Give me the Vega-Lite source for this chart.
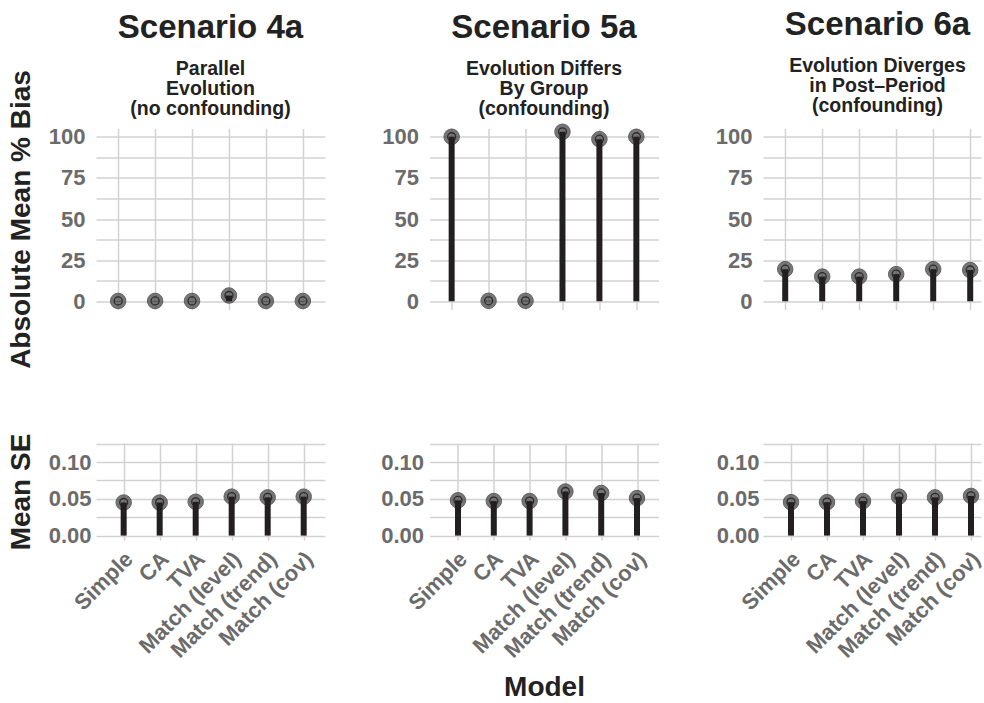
{
 "$schema": "https://vega.github.io/schema/vega-lite/v6.json",
 "padding": {"left": 7, "top": 8.5, "right": 0, "bottom": 0},
 "background": "white",
 "bounds": "flush",
 "columns": 3,
 "spacing": {"row": 133.5, "column": 104.5},
 "datasets": {
  "d": [
   {"scenario": "4a", "metric": "bias", "model": "Simple", "value": 0.2},
   {"scenario": "4a", "metric": "bias", "model": "CA", "value": 0.2},
   {"scenario": "4a", "metric": "bias", "model": "TVA", "value": 0.2},
   {"scenario": "4a", "metric": "bias", "model": "Match (level)", "value": 3.5},
   {"scenario": "4a", "metric": "bias", "model": "Match (trend)", "value": 0.2},
   {"scenario": "4a", "metric": "bias", "model": "Match (cov)", "value": 0.2},
   {"scenario": "5a", "metric": "bias", "model": "Simple", "value": 100},
   {"scenario": "5a", "metric": "bias", "model": "CA", "value": 0.3},
   {"scenario": "5a", "metric": "bias", "model": "TVA", "value": 0.3},
   {"scenario": "5a", "metric": "bias", "model": "Match (level)", "value": 103},
   {"scenario": "5a", "metric": "bias", "model": "Match (trend)", "value": 98.5},
   {"scenario": "5a", "metric": "bias", "model": "Match (cov)", "value": 100},
   {"scenario": "6a", "metric": "bias", "model": "Simple", "value": 19.5},
   {"scenario": "6a", "metric": "bias", "model": "CA", "value": 15},
   {"scenario": "6a", "metric": "bias", "model": "TVA", "value": 15},
   {"scenario": "6a", "metric": "bias", "model": "Match (level)", "value": 16.5},
   {"scenario": "6a", "metric": "bias", "model": "Match (trend)", "value": 19.5},
   {"scenario": "6a", "metric": "bias", "model": "Match (cov)", "value": 19},
   {"scenario": "4a", "metric": "se", "model": "Simple", "value": 0.045},
   {"scenario": "4a", "metric": "se", "model": "CA", "value": 0.045},
   {"scenario": "4a", "metric": "se", "model": "TVA", "value": 0.046},
   {"scenario": "4a", "metric": "se", "model": "Match (level)", "value": 0.053},
   {"scenario": "4a", "metric": "se", "model": "Match (trend)", "value": 0.052},
   {"scenario": "4a", "metric": "se", "model": "Match (cov)", "value": 0.053},
   {"scenario": "5a", "metric": "se", "model": "Simple", "value": 0.048},
   {"scenario": "5a", "metric": "se", "model": "CA", "value": 0.047},
   {"scenario": "5a", "metric": "se", "model": "TVA", "value": 0.047},
   {"scenario": "5a", "metric": "se", "model": "Match (level)", "value": 0.060},
   {"scenario": "5a", "metric": "se", "model": "Match (trend)", "value": 0.058},
   {"scenario": "5a", "metric": "se", "model": "Match (cov)", "value": 0.051},
   {"scenario": "6a", "metric": "se", "model": "Simple", "value": 0.0455},
   {"scenario": "6a", "metric": "se", "model": "CA", "value": 0.0455},
   {"scenario": "6a", "metric": "se", "model": "TVA", "value": 0.047},
   {"scenario": "6a", "metric": "se", "model": "Match (level)", "value": 0.053},
   {"scenario": "6a", "metric": "se", "model": "Match (trend)", "value": 0.052},
   {"scenario": "6a", "metric": "se", "model": "Match (cov)", "value": 0.054}
  ]
 },
 "data": {"name": "d"},
 "config": {
  "view": {"stroke": null},
  "axis": {
   "labelFont": "Liberation Sans", "labelFontWeight": "bold", "labelFontSize": 22, "labelColor": "#6b6b6b",
   "titleFont": "Liberation Sans", "titleFontWeight": "bold", "titleFontSize": 28, "titleColor": "#222222",
   "grid": true, "gridColor": "#d2d2d2", "gridWidth": 1.5, "domain": false, "ticks": false, "tickSize": 0,
   "labelOverlap": false, "labelBound": false, "titlePadding": 13
  },
  "axisX": {"grid": true, "labelAngle": -45, "labelAlign": "right", "labelBaseline": "top", "labelPadding": 8, "labelOffset": -2, "titlePadding": 12},
  "title": {
   "font": "Liberation Sans", "fontSize": 33, "fontWeight": "bold", "color": "#222222",
   "anchor": "middle", "frame": "group",
   "subtitleFont": "Liberation Sans", "subtitleFontSize": 19.5, "subtitleFontWeight": "bold",
   "subtitleColor": "#222222", "subtitleLineHeight": 20, "subtitlePadding": 15, "offset": 10
  }
 },
 "concat": [
    {
     "width": 229, "height": 181,
     "title": {"text": "Scenario 4a", "subtitle": ["Parallel", "Evolution", "(no confounding)"], "dy": 58.9},
     "transform": [{"filter": "datum.scenario === '4a' && datum.metric === 'bias'"}],
     "encoding": {
      "x": {"field": "model", "type": "nominal", "sort": ["Simple", "CA", "TVA", "Match (level)", "Match (trend)", "Match (cov)"],
            "scale": {"type": "point", "padding": 0.6, "align": 0.5}, "axis": {"labels": false, "title": null, "grid": true}},
      "y": {"field": "value", "type": "quantitative", "scale": {"domain": [-5, 105], "nice": false, "zero": false},
            "axis": {"values": [0, 12.5, 25, 37.5, 50, 62.5, 75, 87.5, 100], "labelExpr": "datum.value % 25 === 0 ? datum.label : ''", "labelPadding": 11, "title": "Absolute Mean % Bias"}}
     },
     "layer": [
      {"mark": {"type": "point", "filled": true, "size": 240, "color": "#555555", "opacity": 0.8, "stroke": "#3d3d3d", "strokeWidth": 1}},
      {"mark": {"type": "point", "filled": false, "size": 64, "color": "#2b2b2b", "strokeWidth": 1.3, "opacity": 1}},
      {"mark": {"type": "rule", "color": "#231f20", "strokeWidth": 6}, "encoding": {"y2": {"datum": 0}}}
     ]
    },
    {
     "width": 229, "height": 181,
     "title": {"text": "Scenario 5a", "subtitle": ["Evolution Differs", "By Group", "(confounding)"], "dy": 6},
     "transform": [{"filter": "datum.scenario === '5a' && datum.metric === 'bias'"}],
     "encoding": {
      "x": {"field": "model", "type": "nominal", "sort": ["Simple", "CA", "TVA", "Match (level)", "Match (trend)", "Match (cov)"],
            "scale": {"type": "point", "padding": 0.6, "align": 0.5}, "axis": {"labels": false, "title": null, "grid": true}},
      "y": {"field": "value", "type": "quantitative", "scale": {"domain": [-5, 105], "nice": false, "zero": false},
            "axis": {"values": [0, 12.5, 25, 37.5, 50, 62.5, 75, 87.5, 100], "labelExpr": "datum.value % 25 === 0 ? datum.label : ''", "labelPadding": 11, "title": null}}
     },
     "layer": [
      {"mark": {"type": "point", "filled": true, "size": 240, "color": "#555555", "opacity": 0.8, "stroke": "#3d3d3d", "strokeWidth": 1}},
      {"mark": {"type": "point", "filled": false, "size": 64, "color": "#2b2b2b", "strokeWidth": 1.3, "opacity": 1}},
      {"mark": {"type": "rule", "color": "#231f20", "strokeWidth": 6}, "encoding": {"y2": {"datum": 0}}}
     ]
    },
    {
     "width": 218, "height": 181,
     "title": {"text": "Scenario 6a", "subtitle": ["Evolution Diverges", "in Post\u2013Period", "(confounding)"], "dx": 5.5},
     "transform": [{"filter": "datum.scenario === '6a' && datum.metric === 'bias'"}],
     "encoding": {
      "x": {"field": "model", "type": "nominal", "sort": ["Simple", "CA", "TVA", "Match (level)", "Match (trend)", "Match (cov)"],
            "scale": {"type": "point", "padding": 0.446, "align": 0.673}, "axis": {"labels": false, "title": null, "grid": true}},
      "y": {"field": "value", "type": "quantitative", "scale": {"domain": [-5, 105], "nice": false, "zero": false},
            "axis": {"values": [0, 12.5, 25, 37.5, 50, 62.5, 75, 87.5, 100], "labelExpr": "datum.value % 25 === 0 ? datum.label : ''", "labelPadding": 11, "title": null}}
     },
     "layer": [
      {"mark": {"type": "point", "filled": true, "size": 240, "color": "#555555", "opacity": 0.8, "stroke": "#3d3d3d", "strokeWidth": 1}},
      {"mark": {"type": "point", "filled": false, "size": 64, "color": "#2b2b2b", "strokeWidth": 1.3, "opacity": 1}},
      {"mark": {"type": "rule", "color": "#231f20", "strokeWidth": 6}, "encoding": {"y2": {"datum": 0}}}
     ]
    },
    {
     "width": 229, "height": 97,
     "transform": [{"filter": "datum.scenario === '4a' && datum.metric === 'se'"}],
     "encoding": {
      "x": {"field": "model", "type": "nominal", "sort": ["Simple", "CA", "TVA", "Match (level)", "Match (trend)", "Match (cov)"],
            "scale": {"type": "point", "padding": 0.68, "align": 0.565}, "axis": {"title": null, "grid": true}},
      "y": {"field": "value", "type": "quantitative", "scale": {"domain": [-0.006, 0.126], "nice": false, "zero": false},
            "axis": {"values": [0, 0.025, 0.05, 0.075, 0.1, 0.125], "labelExpr": "(round(datum.value*1000) % 50 === 0) ? format(datum.value, '.2f') : ''", "labelPadding": 5, "title": "Mean SE"}}
     },
     "layer": [
      {"mark": {"type": "point", "filled": true, "size": 240, "color": "#555555", "opacity": 0.8, "stroke": "#3d3d3d", "strokeWidth": 1}},
      {"mark": {"type": "point", "filled": false, "size": 64, "color": "#2b2b2b", "strokeWidth": 1.3, "opacity": 1}},
      {"mark": {"type": "rule", "color": "#231f20", "strokeWidth": 6}, "encoding": {"y2": {"datum": 0}}}
     ]
    },
    {
     "width": 229, "height": 97,
     "transform": [{"filter": "datum.scenario === '5a' && datum.metric === 'se'"}],
     "encoding": {
      "x": {"field": "model", "type": "nominal", "sort": ["Simple", "CA", "TVA", "Match (level)", "Match (trend)", "Match (cov)"],
            "scale": {"type": "point", "padding": 0.698, "align": 0.57}, "axis": {"title": "Model", "grid": true}},
      "y": {"field": "value", "type": "quantitative", "scale": {"domain": [-0.006, 0.126], "nice": false, "zero": false},
            "axis": {"values": [0, 0.025, 0.05, 0.075, 0.1, 0.125], "labelExpr": "(round(datum.value*1000) % 50 === 0) ? format(datum.value, '.2f') : ''", "labelPadding": 6, "title": null}}
     },
     "layer": [
      {"mark": {"type": "point", "filled": true, "size": 240, "color": "#555555", "opacity": 0.8, "stroke": "#3d3d3d", "strokeWidth": 1}},
      {"mark": {"type": "point", "filled": false, "size": 64, "color": "#2b2b2b", "strokeWidth": 1.3, "opacity": 1}},
      {"mark": {"type": "rule", "color": "#231f20", "strokeWidth": 6}, "encoding": {"y2": {"datum": 0}}}
     ]
    },
    {
     "width": 218, "height": 97,
     "transform": [{"filter": "datum.scenario === '6a' && datum.metric === 'se'"}],
     "encoding": {
      "x": {"field": "model", "type": "nominal", "sort": ["Simple", "CA", "TVA", "Match (level)", "Match (trend)", "Match (cov)"],
            "scale": {"type": "point", "padding": 0.528, "align": 0.737}, "axis": {"title": null, "grid": true}},
      "y": {"field": "value", "type": "quantitative", "scale": {"domain": [-0.006, 0.126], "nice": false, "zero": false},
            "axis": {"values": [0, 0.025, 0.05, 0.075, 0.1, 0.125], "labelExpr": "(round(datum.value*1000) % 50 === 0) ? format(datum.value, '.2f') : ''", "labelPadding": 4, "title": null}}
     },
     "layer": [
      {"mark": {"type": "point", "filled": true, "size": 240, "color": "#555555", "opacity": 0.8, "stroke": "#3d3d3d", "strokeWidth": 1}},
      {"mark": {"type": "point", "filled": false, "size": 64, "color": "#2b2b2b", "strokeWidth": 1.3, "opacity": 1}},
      {"mark": {"type": "rule", "color": "#231f20", "strokeWidth": 6}, "encoding": {"y2": {"datum": 0}}}
     ]
    }
 ]
}
